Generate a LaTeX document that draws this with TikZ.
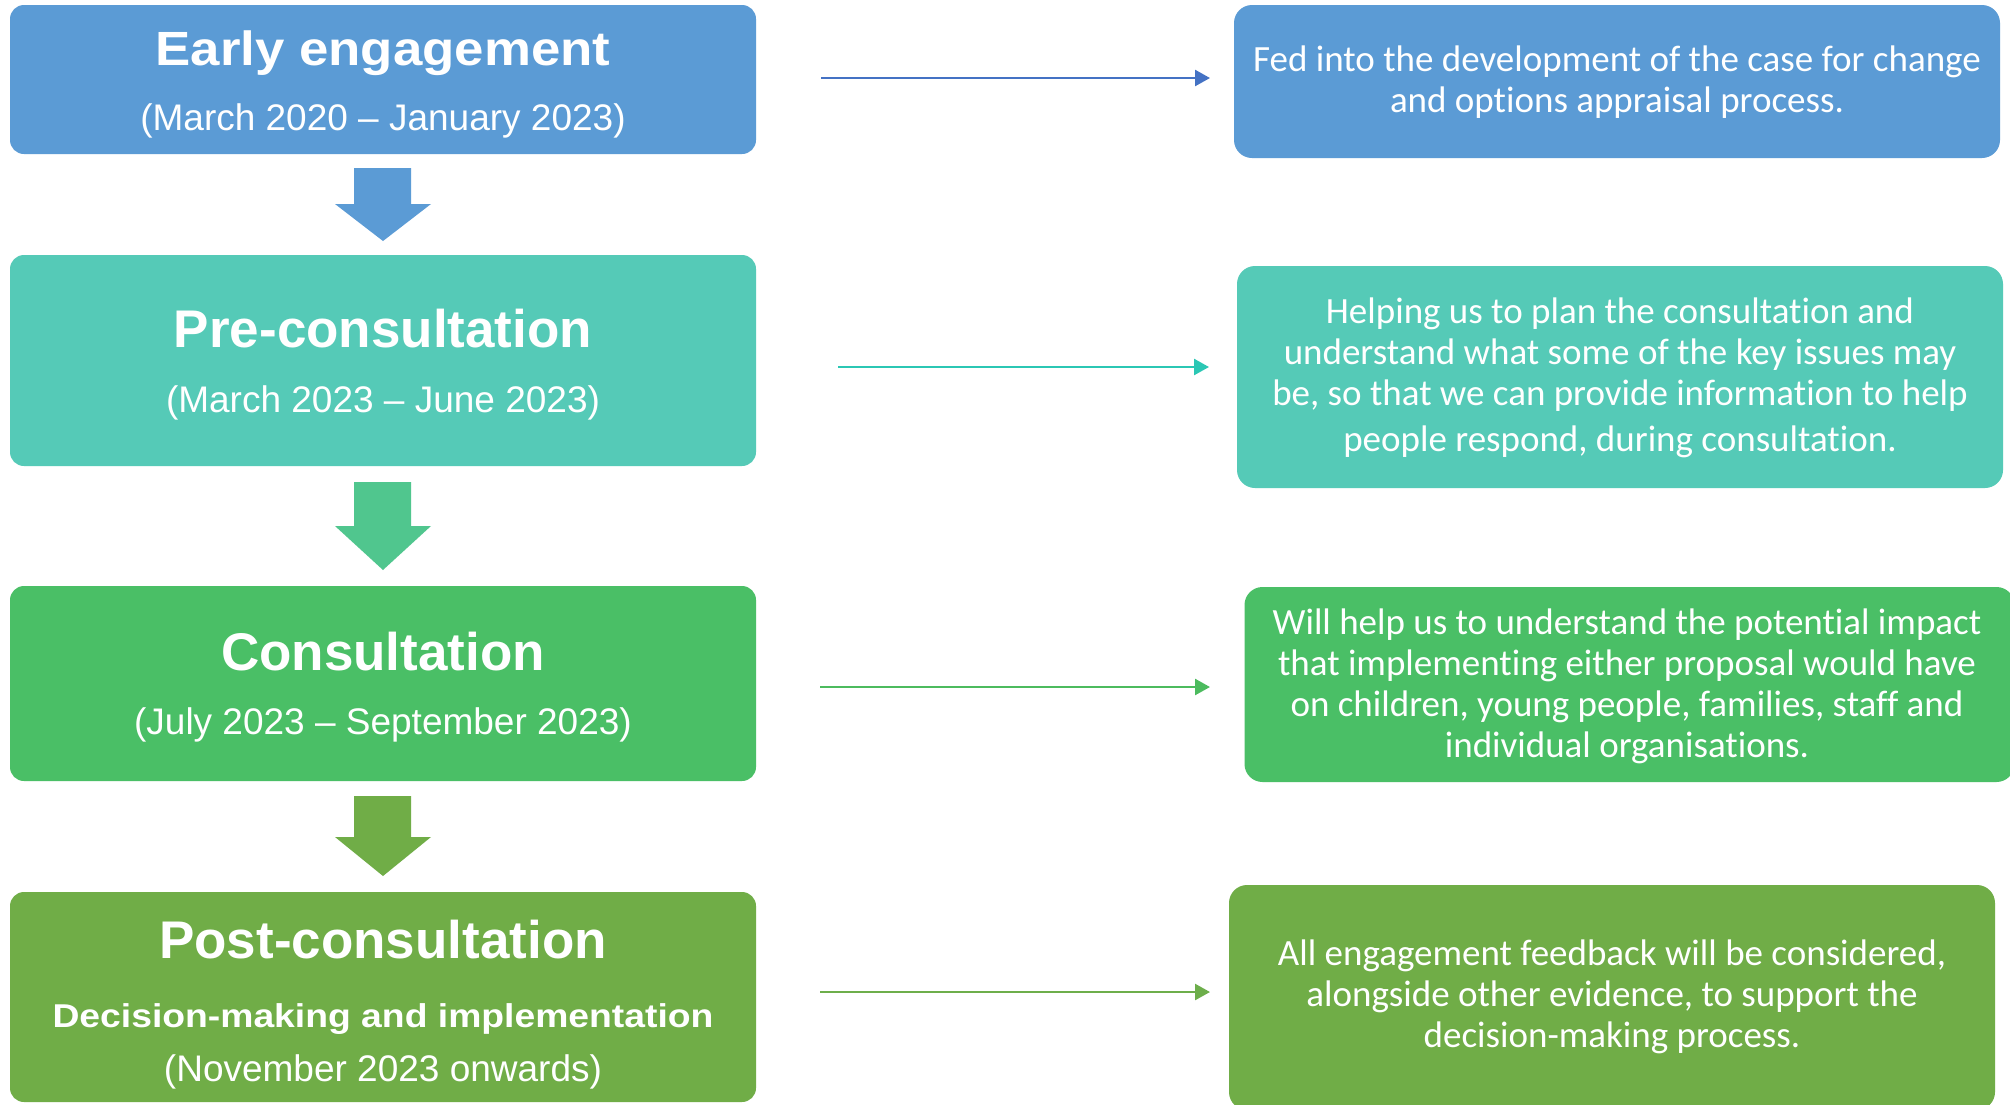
\documentclass[tikz,border=0pt]{standalone}
\usepackage{fontspec}
\usepackage{graphicx}
\setmainfont{Liberation Sans}
\newfontfamily\calfont[Ligatures=NoCommon]{Carlito}
\usetikzlibrary{arrows.meta}
\definecolor{cBlue}{HTML}{5B9BD5}
\definecolor{cTeal}{HTML}{55CAB7}
\definecolor{cGreen}{HTML}{4ABF66}
\definecolor{cOlive}{HTML}{70AD47}
\definecolor{aTeal}{HTML}{50C68E}
\definecolor{lnBlue}{HTML}{4472C4}
\definecolor{lnTeal}{HTML}{2BC7B4}
\definecolor{lnGreen}{HTML}{4CBB5E}
\definecolor{lnOlive}{HTML}{6DAE4B}
\begin{document}
\begin{tikzpicture}[x=1pt,y=-1pt,
  lbox/.style={rounded corners=14pt, inner sep=0pt, draw=none, minimum width=746pt},
  rbox/.style={rounded corners=18pt, inner sep=0pt, draw=none, minimum width=766pt},
  ttl/.style={text=white, anchor=base, inner sep=0pt},
  dte/.style={text=white, anchor=base, inner sep=0pt, font=\fontsize{37}{42}\selectfont},
  rtxt/.style={text=white, anchor=north, inner sep=0pt, align=center, font=\calfont\fontsize{37}{41}\selectfont},
  conn/.style={line width=2.5pt, -{Triangle[length=15pt,width=16pt]}}
]
\path[use as bounding box] (0,0) rectangle (2010,1104);
\fill[white] (0,0) rectangle (2010,1104);

% left boxes
\node[lbox, fill=cBlue, minimum height=149pt] (L1) at (383,79.5) {};
\node[ttl, font=\bfseries\fontsize{48}{54}\selectfont] (L1t) at (383,65) {\scalebox{1.1}[1]{Early engagement}};
\node[dte] (L1d) at (383,130) {(March 2020 – January 2023)};

\node[lbox, fill=cTeal, minimum height=211pt] (L2) at (383,360.5) {};
\node[ttl, font=\bfseries\fontsize{53}{60}\selectfont] (L2t) at (383,347) {Pre-consultation};
\node[dte] (L2d) at (383,412) {(March 2023 – June 2023)};

\node[lbox, fill=cGreen, minimum height=195pt] (L3) at (383,683.5) {};
\node[ttl, font=\bfseries\fontsize{53}{60}\selectfont] (L3t) at (383,670) {Consultation};
\node[dte] (L3d) at (383,734) {(July 2023 – September 2023)};

\node[lbox, fill=cOlive, minimum height=210pt] (L4) at (383,997) {};
\node[ttl, font=\bfseries\fontsize{53}{60}\selectfont] (L4t) at (383,958) {Post-consultation};
\node[ttl, font=\bfseries\fontsize{33}{38}\selectfont] (L4s) at (383,1027) {\scalebox{1.13}[1]{Decision-making and implementation}};
\node[dte] (L4d) at (383,1081) {(November 2023 onwards)};

% block arrows
\fill[cBlue] (354,168) -- (411,168) -- (411,204) -- (431,204) -- (383,241) -- (335,204) -- (354,204) -- cycle;
\fill[aTeal] (354,482) -- (411,482) -- (411,526) -- (431,526) -- (383,570) -- (335,526) -- (354,526) -- cycle;
\fill[cOlive] (354,796) -- (411,796) -- (411,837) -- (431,837) -- (383,876) -- (335,837) -- (354,837) -- cycle;

% right boxes
\node[rbox, fill=cBlue, minimum height=153pt] (R1) at (1617,81.5) {};
\node[rtxt] (R1x) at (1617,42.3) {\strut Fed into the development of the case for change\\and options appraisal process.};

\node[rbox, fill=cTeal, minimum height=222pt] (R2) at (1620,377) {};
\node[rtxt] (R2x) at (1620,294.3) {\strut Helping us to plan the consultation and\\understand what some of the key issues may\\be, so that we can provide information to help\\[5pt]people respond, during consultation.};

\node[rbox, fill=cGreen, minimum width=770pt, minimum height=195pt] (R3) at (1629.5,684.5) {};
\node[rtxt] (R3x) at (1627,605.3) {\strut Will help us to understand the potential impact\\that implementing either proposal would have\\on children, young people, families, staff and\\individual organisations.};

\node[rbox, fill=cOlive, minimum height=225pt] (R4) at (1612,997.5) {};
\node[rtxt] (R4x) at (1612,936.3) {\strut All engagement feedback will be considered,\\alongside other evidence, to support the\\decision-making process.};

% connectors
\coordinate (s1) at (821,78);  \coordinate (e1) at (1210,78);
\coordinate (s2) at (838,367); \coordinate (e2) at (1209,367);
\coordinate (s3) at (820,687); \coordinate (e3) at (1210,687);
\coordinate (s4) at (820,992); \coordinate (e4) at (1210,992);
\draw[conn, lnBlue] (s1) -- (e1);
\draw[conn, lnTeal] (s2) -- (e2);
\draw[conn, lnGreen] (s3) -- (e3);
\draw[conn, lnOlive] (s4) -- (e4);
\end{tikzpicture}
\end{document}
